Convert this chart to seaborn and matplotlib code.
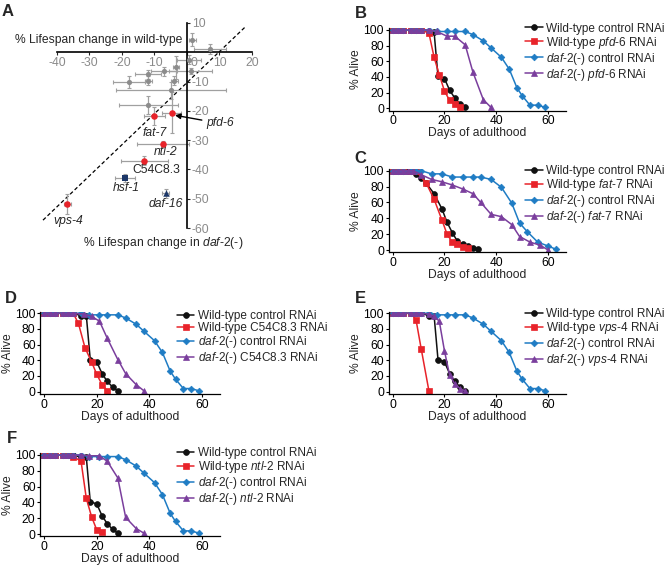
"""Lifespan screen summary (A) and survival curves (B-F)."""

import matplotlib
matplotlib.use("Agg")
import matplotlib.pyplot as plt
import matplotlib.transforms as mtransforms
import seaborn as sns

# ---------------- panel A: % lifespan change ----------------
gray_x = [1.7, 7.1, 0.6, -3.4, -7.0, -12.1, 1.2, -11.9, -17.8, -3.9, -4.9, -11.9]
gray_y = [4.3, 1.2, -2.5, -5.2, -6.5, -7.5, -6.5, -9.7, -10.2, -9.7, -13.0, -18.0]
gray_xerr = [1.0, 5.0, 3.8, 1.0, 4.0, 4.0, 6.6, 1.0, 5.0, 1.0, 17.0, 9.0]
gray_yerr = [2.3, 1.7, 1.5, 4.0, 1.5, 1.5, 1.0, 1.5, 2.0, 1.5, 3.0, 3.0]

hit_genes = ["pfd-6", "fat-7", "ntl-2", "C54C8.3", "vps-4"]
hit_x = [-4.7, -10.1, -7.3, -13.1, -36.8]
hit_y = [-20.7, -21.8, -31.4, -37.0, -51.8]
hit_xerr = [3.0, 3.2, 8.0, 7.3, 1.0]
hit_yerr = [7.0, 3.0, 1.0, 1.5, 3.5]

ctrl_genes = ["hsf-1", "daf-16"]
ctrl_x = [-19.1, -6.6]
ctrl_y = [-42.9, -48.2]
ctrl_xerr = [3.0, 1.0]
ctrl_yerr = [1.5, 1.5]

fit_x = [-44.3, 17.8]
fit_y = [-57.3, 8.5]

# ---------------- survival curves ----------------
wt_ctrl_days = [0, 2, 4, 7, 9, 11, 14, 16, 17.5, 20, 22, 24, 26, 28]
wt_ctrl_surv = [100, 100, 100, 100, 100, 100, 97, 97, 41, 38, 23, 13, 6, 1]
daf2_ctrl_days = [0, 2, 4, 7, 9, 11, 14, 17, 21, 24, 28, 31, 35, 38, 42, 45, 48, 50, 53, 56, 59]
daf2_ctrl_surv = [100, 100, 100, 100, 100, 100, 100, 98, 98, 98, 98, 94, 86, 77, 65, 50, 26, 16, 4, 4, 1]

# B: pfd-6
wt_pfd6_days = [0, 2, 4, 7, 9, 11, 14, 16, 18, 20, 22, 24, 26]
wt_pfd6_surv = [100, 100, 100, 100, 100, 100, 96, 65, 43, 22, 10, 5, 1]
daf2_pfd6_days = [0, 2, 4, 7, 9, 11, 14, 17, 21, 24, 28, 31, 35, 38]
daf2_pfd6_surv = [100, 100, 100, 100, 100, 100, 100, 98, 92, 92, 81, 46, 11, 1]

# C: fat-7 (own controls)
c_wt_ctrl_days = [0, 2, 4, 6, 9, 11, 13, 16, 19, 21, 23, 25, 27, 29, 31, 33]
c_wt_ctrl_surv = [100, 100, 100, 100, 96, 91, 84, 71, 52, 35, 22, 11, 7, 5, 3, 1]
wt_fat7_days = [0, 2, 4, 7, 9, 13, 16, 19, 21, 23, 25, 27, 29]
wt_fat7_surv = [100, 100, 100, 100, 100, 84, 64, 38, 20, 10, 7, 4, 2]
c_daf2_ctrl_days = [0, 2, 4, 7, 9, 11, 15, 19, 23, 27, 31, 34, 38, 42, 46, 49, 52, 56, 60, 63]
c_daf2_ctrl_surv = [100, 100, 100, 100, 100, 100, 96, 96, 92, 92, 92, 92, 89, 79, 59, 34, 23, 10, 5, 1]
daf2_fat7_days = [0, 2, 4, 6, 8, 11, 15, 19, 23, 27, 31, 34, 38, 42, 46, 49, 53, 57, 60]
daf2_fat7_surv = [100, 100, 100, 100, 100, 95, 89, 86, 82, 77, 71, 60, 45, 42, 32, 17, 10, 6, 0]

# D: C54C8.3
wt_c54_days = [0, 2, 4, 7, 9, 11, 13, 15.5, 18, 20, 22, 24]
wt_c54_surv = [100, 100, 100, 100, 100, 100, 87, 56, 38, 22, 9, 1]
daf2_c54_days = [0, 2, 4, 7, 9, 11, 15, 18, 21, 24, 28, 31, 35, 38]
daf2_c54_surv = [100, 100, 100, 100, 100, 100, 99, 96, 90, 68, 41, 23, 9, 1]

# E: vps-4
wt_vps4_days = [0, 2, 4, 7, 9, 11, 14]
wt_vps4_surv = [100, 100, 100, 100, 92, 55, 1]
daf2_vps4_days = [0, 2, 4, 7, 9, 11, 14, 16, 18, 20, 22, 24, 26, 28]
daf2_vps4_surv = [100, 100, 100, 100, 100, 100, 99, 96, 90, 52, 21, 10, 4, 1]

# F: ntl-2
wt_ntl2_days = [0, 2, 4, 7, 9, 11, 14, 16, 18, 20, 22]
wt_ntl2_surv = [100, 100, 100, 100, 100, 98, 92, 45, 22, 5, 2]
daf2_ntl2_days = [0, 2, 4, 7, 9, 11, 14, 17, 21, 24, 28, 31, 35, 38]
daf2_ntl2_surv = [100, 100, 100, 100, 100, 100, 100, 99, 99, 92, 71, 21, 7, 1]

BLACK, RED, BLUE, PURPLE = "#111111", "#e8232a", "#1f7cc4", "#7a3e9d"
GRAY, NAVY = "#8c8c8c", "#1c3768"
STYLES = [(BLACK, "o", 4.2), (RED, "s", 3.8), (BLUE, "D", 3.4), (PURPLE, "^", 4.6)]
FS = 8.7
LEG_FS = 8.5

sns.set_style("ticks")
plt.rcParams["font.family"] = ["Liberation Sans", "DejaVu Sans"]
plt.rcParams["mathtext.fontset"] = "custom"
plt.rcParams["mathtext.rm"] = "Liberation Sans"
plt.rcParams["mathtext.it"] = "Liberation Sans:italic"
plt.rcParams["axes.unicode_minus"] = False
plt.rcParams["font.size"] = FS


def it(name):
    # italic gene name, hyphens kept upright so mathtext does not turn them into minus signs
    return "-".join(r"$\mathit{" + p + "}$" for p in name.split("-") if p)


DAF2 = it("daf-2(-)")


def legend_labels(gene):
    g = gene if gene[0].isupper() else it(gene)
    return ["Wild-type control RNAi", f"Wild-type {g} RNAi",
            f"{DAF2} control RNAi", f"{DAF2} {g} RNAi"]


fig = plt.figure(figsize=(6.68, 5.65), dpi=100)


def survival_panel(rect, series, gene, legend_xy):
    ax = fig.add_axes(rect)
    for (days, surv), (color, marker, ms) in zip(series, STYLES):
        sns.lineplot(x=days, y=surv, ax=ax, color=color, marker=marker, markersize=ms,
                     markeredgecolor=color, markeredgewidth=0.5, linewidth=1.1,
                     errorbar=None, sort=False, legend=False)
    ax.set_xlim(-1.5, 67)
    ax.set_ylim(-3, 102)
    ax.set_xticks([0, 20, 40, 60])
    ax.set_yticks(range(0, 101, 20))
    ax.set_xlabel("Days of adulthood", fontsize=FS, labelpad=0)
    ax.set_ylabel("% Alive", fontsize=FS, labelpad=1)
    ax.tick_params(labelsize=FS, length=2.5, width=0.8, pad=1, colors="black")
    sns.despine(ax=ax)
    for s in ("left", "bottom"):
        ax.spines[s].set_linewidth(0.9)
        ax.spines[s].set_color("black")
    ax.legend(ax.lines, legend_labels(gene), loc="center left", bbox_to_anchor=legend_xy,
              bbox_transform=fig.transFigure, frameon=False, fontsize=LEG_FS,
              handlelength=1.5, handletextpad=0.3, labelspacing=0.0,
              borderpad=0, borderaxespad=0)
    return ax


# ---------------- panel A ----------------
axA = fig.add_axes([0.0561, 0.586, 0.3211, 0.3786])
axA.set_xlim(-46, 20)
axA.set_ylim(-62, 11)
axA.plot(fit_x, fit_y, ls=(0, (3, 2)), color="black", lw=0.9, zorder=1)
err_kw = dict(fmt="none", ecolor="#a0a0a0", elinewidth=0.9, capsize=1.5, capthick=0.8, zorder=2)
axA.errorbar(gray_x, gray_y, xerr=gray_xerr, yerr=gray_yerr, **err_kw)
axA.errorbar(hit_x, hit_y, xerr=hit_xerr, yerr=hit_yerr, **err_kw)
axA.errorbar(ctrl_x, ctrl_y, xerr=ctrl_xerr, yerr=ctrl_yerr, **err_kw)
sns.scatterplot(x=gray_x, y=gray_y, ax=axA, color=GRAY, s=14, linewidth=0, zorder=3)
sns.scatterplot(x=hit_x, y=hit_y, ax=axA, color=RED, s=22, linewidth=0, zorder=4)
for x, y, m in zip(ctrl_x, ctrl_y, ["s", "^"]):
    sns.scatterplot(x=[x], y=[y], ax=axA, color=NAVY, marker=m, s=22, linewidth=0, zorder=4)

axA.spines["left"].set_visible(False)
axA.spines["top"].set_visible(False)
axA.spines["right"].set_position(("data", 0))
axA.spines["bottom"].set_position(("data", 0))
axA.spines["bottom"].set_bounds(-40, 20)
axA.spines["right"].set_bounds(-60, 10)
for s in ("right", "bottom"):
    axA.spines[s].set_linewidth(1.2)
    axA.spines[s].set_color("black")
axA.yaxis.set_ticks_position("right")
axA.xaxis.set_ticks_position("bottom")
xt = list(range(-40, 21, 10))
axA.set_xticks(xt, labels=[str(v) for v in xt])
yt = [-60, -50, -40, -30, -20, -10, 10]
axA.set_yticks(yt, labels=[str(v) for v in yt])
axA.tick_params(labelcolor="#8a8a8a", labelsize=FS, length=2.5, width=0.8, pad=1)
zero_lab = axA.get_xticklabels()[xt.index(0)]
zero_lab.set_transform(zero_lab.get_transform() +
                       mtransforms.ScaledTranslation(5 / 72, 0, fig.dpi_scale_trans))

axA.text(-1.5, 4.3, "% Lifespan change in wild-type", ha="right", va="center", fontsize=FS)
axA.text(-7.4, -65.0, "% Lifespan change in " + DAF2, ha="center", va="center",
         fontsize=FS, clip_on=False)

label_pos = {"fat-7": (-9.8, -27.5), "ntl-2": (-6.6, -34.0), "C54C8.3": (-9.4, -40.3),
             "vps-4": (-36.6, -57.7), "hsf-1": (-18.8, -46.3), "daf-16": (-6.6, -51.8)}
for gene, (tx, ty) in label_pos.items():
    axA.text(tx, ty, gene, ha="center", va="center", fontsize=FS,
             fontstyle="normal" if gene[0].isupper() else "italic")
axA.annotate("pfd-6", xy=(hit_x[0] + 1.0, hit_y[0] - 0.8), xytext=(6.0, -24.3),
             ha="left", va="center", fontsize=FS, fontstyle="italic",
             arrowprops=dict(arrowstyle="-|>", color="black", lw=1.0, mutation_scale=8,
                             shrinkA=1, shrinkB=0))

# ---------------- panels B-F ----------------
survival_panel([0.582, 0.8042, 0.2656, 0.1456],
               [(wt_ctrl_days, wt_ctrl_surv), (wt_pfd6_days, wt_pfd6_surv),
                (daf2_ctrl_days, daf2_ctrl_surv), (daf2_pfd6_days, daf2_pfd6_surv)],
               "pfd-6", (0.786, 0.907))
survival_panel([0.582, 0.5533, 0.2656, 0.1474],
               [(c_wt_ctrl_days, c_wt_ctrl_surv), (wt_fat7_days, wt_fat7_surv),
                (c_daf2_ctrl_days, c_daf2_ctrl_surv), (daf2_fat7_days, daf2_fat7_surv)],
               "fat-7", (0.786, 0.655))
survival_panel([0.0605, 0.3026, 0.269, 0.1457],
               [(wt_ctrl_days, wt_ctrl_surv), (wt_c54_days, wt_c54_surv),
                (daf2_ctrl_days, daf2_ctrl_surv), (daf2_c54_days, daf2_c54_surv)],
               "C54C8.3", (0.2645, 0.402))
survival_panel([0.582, 0.3026, 0.2656, 0.1457],
               [(wt_ctrl_days, wt_ctrl_surv), (wt_vps4_days, wt_vps4_surv),
                (daf2_ctrl_days, daf2_ctrl_surv), (daf2_vps4_days, daf2_vps4_surv)],
               "vps-4", (0.786, 0.402))
survival_panel([0.0605, 0.0506, 0.269, 0.1469],
               [(wt_ctrl_days, wt_ctrl_surv), (wt_ntl2_days, wt_ntl2_surv),
                (daf2_ctrl_days, daf2_ctrl_surv), (daf2_ntl2_days, daf2_ntl2_surv)],
               "ntl-2", (0.2645, 0.155))

for letter, x, y in [("A", 0.003, 0.993), ("B", 0.531, 0.990), ("C", 0.531, 0.733),
                     ("D", 0.0075, 0.485), ("E", 0.531, 0.485), ("F", 0.0105, 0.237)]:
    fig.text(x, y, letter, fontsize=12, fontweight="bold", ha="left", va="top")

fig.savefig("out.png", dpi=100)
